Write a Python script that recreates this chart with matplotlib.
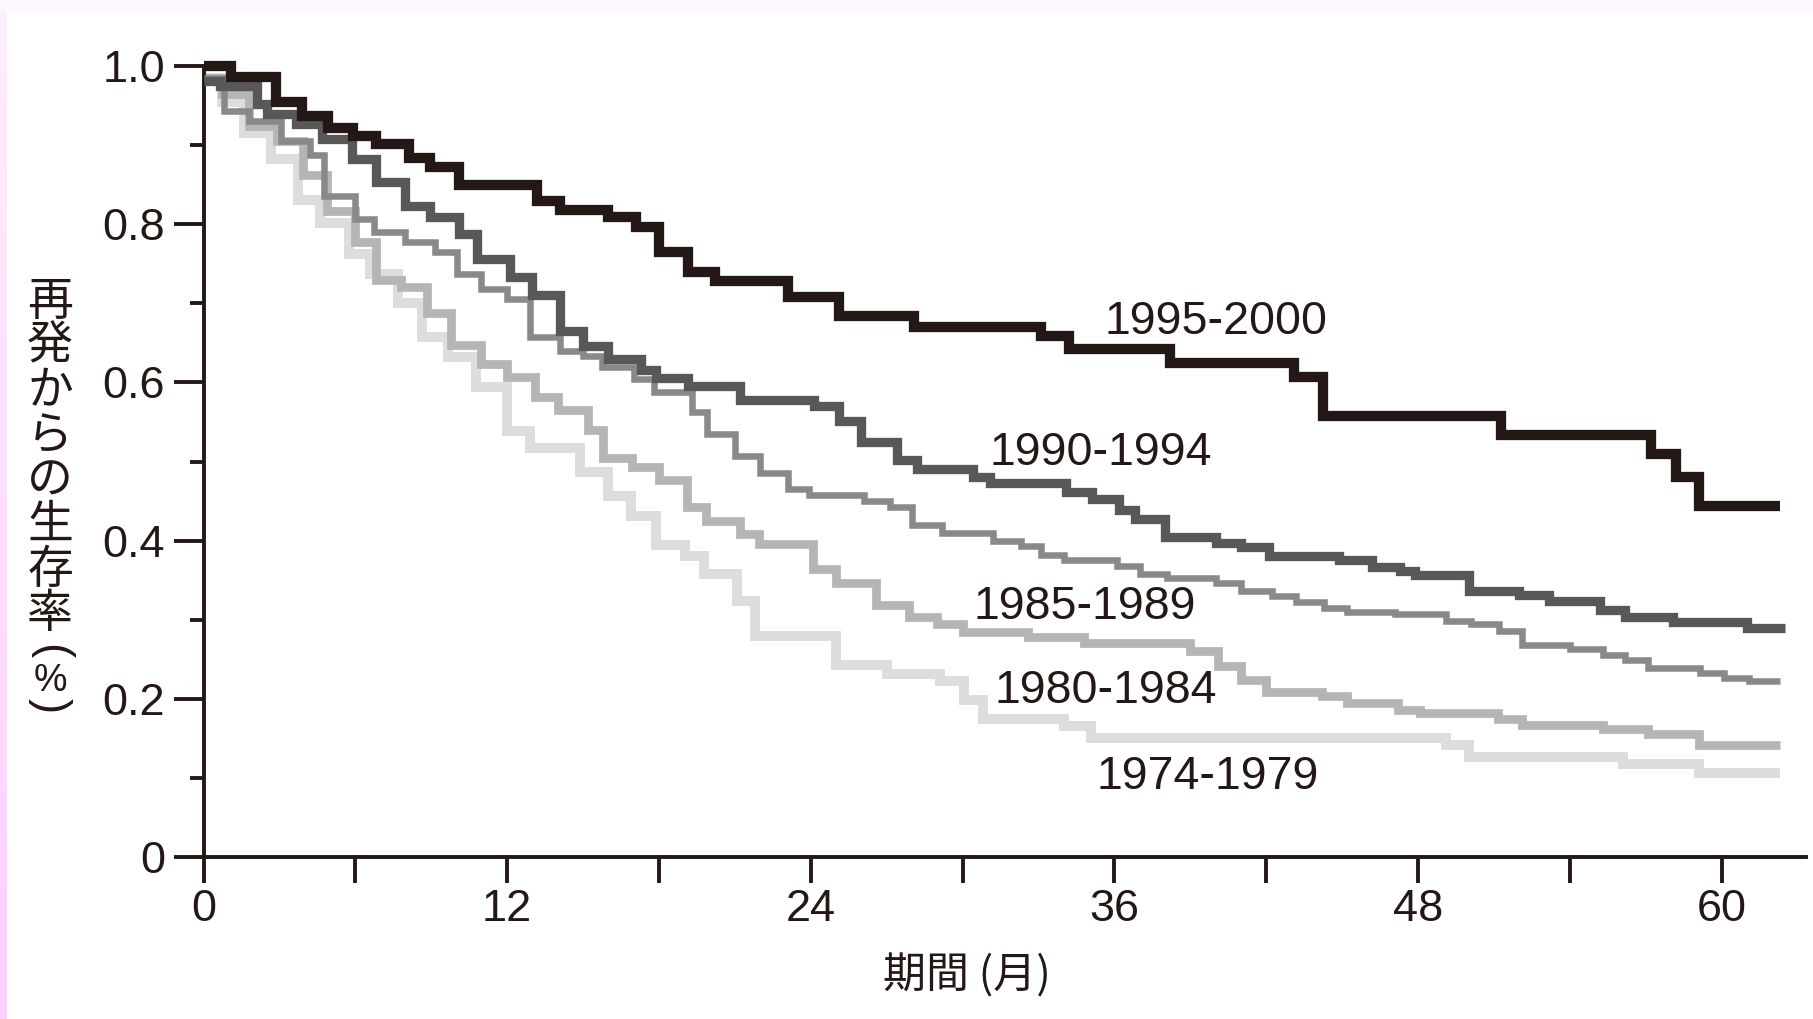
import matplotlib
matplotlib.use("Agg")
import matplotlib.pyplot as plt
import numpy as np
from matplotlib.colors import LinearSegmentedColormap

# step data: start month of each level, survival level
t_1995 = [0, 1.07, 2.87, 3.9, 4.94, 5.9, 6.8, 8.14, 8.95, 10.08, 13.2, 14.1, 16.0, 17.1, 18.0,
          19.15, 20.2, 23.1, 25.1, 28.1, 33.1, 34.2, 38.2, 43.1, 44.25, 51.3, 57.2, 58.2, 59.1]
s_1995 = [1.0, 0.986, 0.955, 0.937, 0.922, 0.912, 0.901, 0.884, 0.872, 0.849, 0.829, 0.818, 0.809, 0.797, 0.765,
          0.739, 0.728, 0.708, 0.684, 0.670, 0.659, 0.642, 0.624, 0.607, 0.558, 0.534, 0.510, 0.481, 0.444]

t_1990 = [0, 0.66, 2.1, 2.5, 3.65, 4.7, 5.87, 6.8, 7.95, 8.95, 10.08, 10.8, 12.1, 13.0, 14.1, 15.0, 16.0,
          17.3, 17.9, 19.15, 21.2, 24.15, 25.1, 26.0, 27.4, 28.2, 30.4, 31.1, 34.1, 35.1, 36.2, 36.8, 38.0,
          40.0, 41.0, 42.1, 44.9, 46.2, 47.3, 47.9, 50.0, 52.0, 53.2, 55.2, 56.2, 58.1, 61.0]
s_1990 = [0.981, 0.975, 0.952, 0.939, 0.927, 0.908, 0.882, 0.853, 0.823, 0.809, 0.787, 0.756, 0.733, 0.711, 0.665, 0.646, 0.629,
          0.616, 0.606, 0.596, 0.578, 0.570, 0.551, 0.525, 0.502, 0.490, 0.481, 0.473, 0.462, 0.452, 0.439, 0.427, 0.405,
          0.397, 0.392, 0.380, 0.375, 0.367, 0.361, 0.356, 0.336, 0.331, 0.324, 0.312, 0.303, 0.297, 0.289]

t_1985 = [0, 0.8, 1.8, 3.06, 4.2, 4.75, 5.97, 6.74, 7.95, 9.15, 10.0, 10.95, 12.0, 12.9, 14.1, 15.0, 15.75,
          17.0, 17.8, 19.3, 19.9, 21.0, 22.0, 23.1, 23.95, 26.1, 27.15, 28.0, 29.2, 31.2, 32.3, 33.1, 34.0,
          36.1, 37.0, 38.1, 40.0, 41.0, 42.25, 43.2, 44.3, 45.2, 47.1, 49.1, 50.1, 51.2, 52.1, 54.0, 55.3,
          56.2, 57.1, 59.15, 60.1, 61.1]
s_1985 = [0.985, 0.943, 0.931, 0.905, 0.888, 0.836, 0.806, 0.790, 0.777, 0.765, 0.737, 0.718, 0.705, 0.657, 0.640, 0.633, 0.620,
          0.604, 0.588, 0.562, 0.535, 0.507, 0.486, 0.465, 0.458, 0.450, 0.442, 0.420, 0.410, 0.400, 0.393, 0.382, 0.376,
          0.368, 0.358, 0.353, 0.346, 0.336, 0.330, 0.323, 0.315, 0.310, 0.307, 0.298, 0.295, 0.286, 0.268, 0.263, 0.255,
          0.249, 0.239, 0.232, 0.226, 0.222]

t_1980 = [0, 0.73, 1.8, 2.9, 3.95, 4.9, 6.0, 6.8, 7.8, 8.85, 9.8, 10.95, 12.0, 13.1, 14.0, 15.2, 15.8,
          16.95, 18.0, 19.1, 19.85, 21.2, 21.95, 24.1, 25.0, 26.6, 27.9, 29.0, 30.0, 32.6, 34.8, 39.0,
          40.1, 41.0, 42.0, 44.2, 45.2, 47.2, 48.1, 51.15, 52.1, 55.3, 57.1, 59.1]
s_1980 = [0.985, 0.965, 0.924, 0.905, 0.862, 0.817, 0.777, 0.729, 0.720, 0.688, 0.647, 0.623, 0.607, 0.581, 0.565, 0.540, 0.505,
          0.493, 0.477, 0.443, 0.425, 0.408, 0.396, 0.364, 0.346, 0.319, 0.304, 0.294, 0.284, 0.278, 0.271, 0.260,
          0.242, 0.224, 0.209, 0.203, 0.195, 0.186, 0.182, 0.174, 0.167, 0.162, 0.156, 0.142]

t_1974 = [0, 0.75, 1.6, 2.67, 3.74, 4.6, 5.74, 6.6, 7.7, 8.64, 9.65, 10.77, 11.98, 12.9, 14.9, 16.0,
          16.9, 17.9, 19.05, 19.8, 21.1, 21.8, 25.0, 27.0, 29.1, 30.05, 30.8, 34.0, 35.06, 49.1, 50.0,
          56.1, 59.1]
s_1974 = [0.985, 0.955, 0.915, 0.883, 0.830, 0.802, 0.762, 0.737, 0.701, 0.657, 0.632, 0.594, 0.539, 0.517, 0.487, 0.457,
          0.431, 0.395, 0.380, 0.358, 0.324, 0.279, 0.243, 0.231, 0.222, 0.199, 0.175, 0.166, 0.150, 0.142, 0.126,
          0.118, 0.106]

end_month = [62.3, 62.5, 62.3, 62.3, 62.3]
periods = ["1995-2000", "1990-1994", "1985-1989", "1980-1984", "1974-1979"]
label_x = [35.6, 31.05, 30.45, 31.25, 35.3]
label_y = [0.661, 0.495, 0.301, 0.195, 0.086]

colors = ['#231815', '#595757', '#898989', '#b5b5b6', '#dcdddd']
widths = [7.4, 6.7, 4.7, 6.3, 7.2]

ink = '#231815'
num_font = 'Liberation Sans'
jp_font = ['Noto Sans CJK JP', 'DejaVu Sans']

W, H = 1813, 1019
fig = plt.figure(figsize=(W / 100, H / 100), dpi=100)
fig.patch.set_facecolor('white')

# pink edge on the left, faint tint on top
strip = fig.add_axes([0, 0, 7 / W, 1])
grad = np.linspace(0, 1, 256).reshape(-1, 1)
pink = LinearSegmentedColormap.from_list('pk', ['#fccffc', '#fdeefd'])
strip.imshow(grad, aspect='auto', cmap=pink, origin='lower')
strip.axis('off')
top = fig.add_axes([0, 1 - 11 / H, 1, 11 / H])
top.set_facecolor('#fdf7fd')
top.set_xticks([]); top.set_yticks([])
for sp in top.spines.values():
    sp.set_visible(False)

x0, x1 = 203.5, 1806
y0, y1 = 857, 66
ax = fig.add_axes([x0 / W, 1 - y0 / H, (x1 - x0) / W, (y0 - y1) / H])
ax.set_xlim(0, (x1 - x0) / 25.3)
ax.set_ylim(0, 1.0)

series = [(t_1995, s_1995), (t_1990, s_1990), (t_1985, s_1985), (t_1980, s_1980), (t_1974, s_1974)]
for i in range(len(series) - 1, -1, -1):
    t, s = series[i]
    tt = np.append(t, end_month[i])
    ss = np.append(s, s[-1])
    ax.step(tt, ss, where='post', color=colors[i], lw=widths[i], solid_joinstyle='miter',
            solid_capstyle='butt', clip_on=False, zorder=5 - i)
    ax.text(label_x[i], label_y[i], periods[i], fontsize=33.5, family=num_font, color=ink,
            ha='left', va='baseline', zorder=10)

for k in ['top', 'right']:
    ax.spines[k].set_visible(False)
for k in ['left', 'bottom']:
    ax.spines[k].set_linewidth(2.8)
    ax.spines[k].set_color(ink)

xt = np.arange(0, 61, 6)
ax.set_xticks(xt)
ax.set_xticklabels([str(v) if v % 12 == 0 else '' for v in xt])
ax.set_yticks([0, 0.2, 0.4, 0.6, 0.8, 1.0])
ax.set_yticklabels(['0', '0.2', '0.4', '0.6', '0.8', '1.0'])
ax.set_yticks([0.1, 0.3, 0.5, 0.7, 0.9], minor=True)
ax.tick_params(axis='x', direction='out', length=18.7, width=2.8, color=ink, pad=4,
               labelsize=32.5, labelcolor=ink)
ax.tick_params(axis='y', which='major', direction='out', length=21.6, width=2.8, color=ink, pad=6,
               labelsize=32.5, labelcolor=ink)
ax.tick_params(axis='y', which='minor', direction='out', length=10, width=2.8, color=ink)
for lab in ax.get_xticklabels() + ax.get_yticklabels():
    lab.set_family(num_font)

# axis titles
fig.text(967 / W, 1 - 976 / H, '期間 (月)', fontsize=31, family=jp_font, color=ink,
         ha='center', va='center')

ychars = '再発からの生存率'
for j, ch in enumerate(ychars):
    yc = 302 + 44.6 * j
    fig.text(50 / W, 1 - yc / H, ch, fontsize=33, family=jp_font, color=ink, ha='center', va='center')
fig.text(50 / W, 1 - 652 / H, '(', fontsize=33, family=num_font, color=ink, ha='center', va='center',
         rotation=-90)
fig.text(50 / W, 1 - 681 / H, '%', fontsize=27, family=num_font, color=ink, ha='center', va='center')
fig.text(50 / W, 1 - 706 / H, ')', fontsize=33, family=num_font, color=ink, ha='center', va='center',
         rotation=-90)

fig.savefig('out.png', dpi=100)
